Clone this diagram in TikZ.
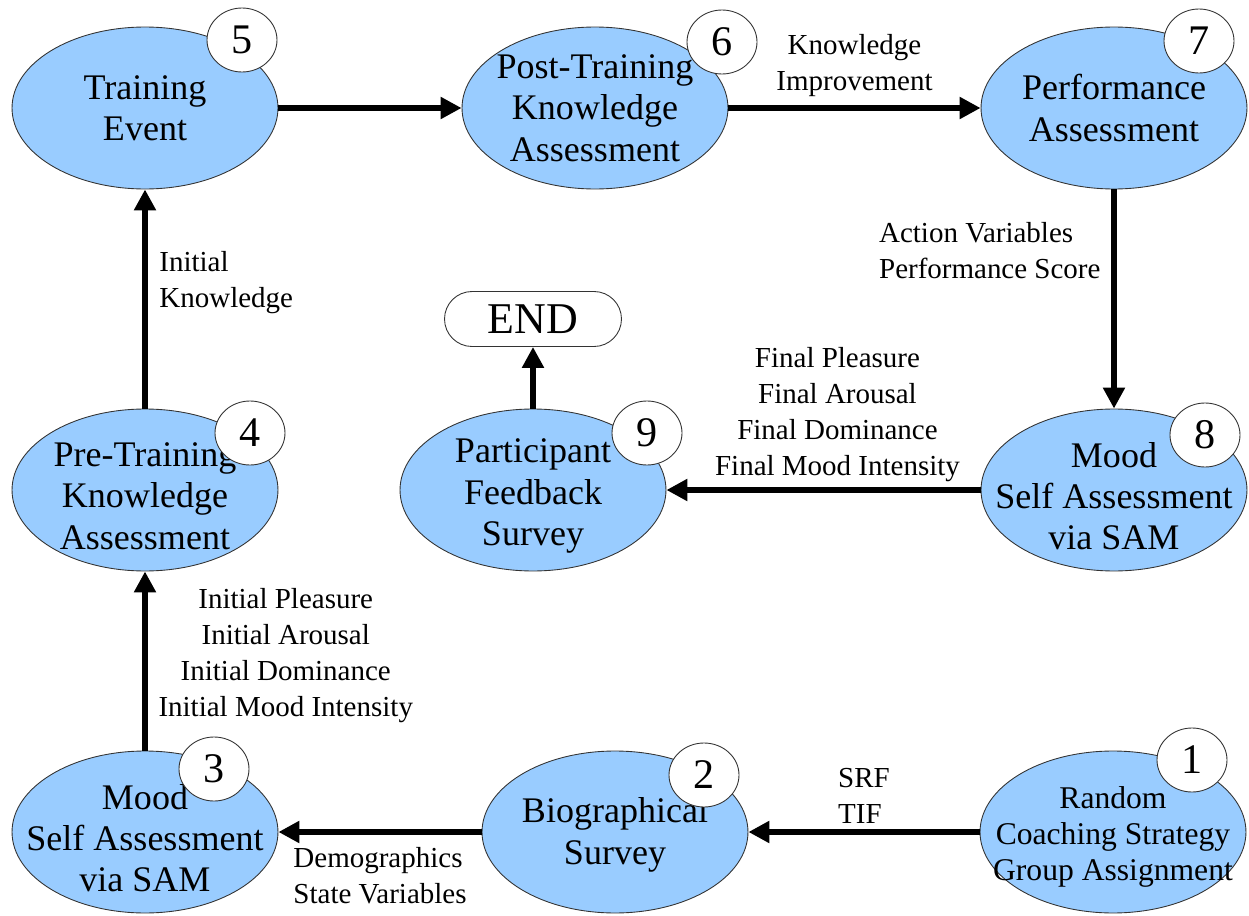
\documentclass[tikz,border=0pt]{standalone}
\usepackage{fontspec}
\setmainfont{Liberation Serif}
\usetikzlibrary{shapes.geometric,arrows.meta}

\definecolor{stageblue}{RGB}{153,204,255}

\tikzset{
  stage/.style={ellipse, draw=black!80, line width=0.5pt, fill=stageblue,
    minimum width=5.32cm, minimum height=3.24cm, inner sep=0pt},
  stagetext/.style={align=center, inner sep=0pt,
    font=\fontsize{20.5}{23.5}\selectfont},
  badge/.style={ellipse, draw=black!80, line width=0.5pt, fill=white,
    minimum width=1.4cm, minimum height=1.28cm, inner sep=0pt,
    font=\fontsize{24}{24}\selectfont},
  endbox/.style={draw=black!80, line width=0.5pt, fill=white, rounded corners=0.55cm,
    minimum width=3.54cm, minimum height=1.1cm, inner sep=0pt,
    font=\fontsize{25}{25}\selectfont},
  flow/.style={line width=3.4pt, -{Triangle[length=0.42cm,width=0.42cm]}},
  lbl/.style={inner sep=0pt, font=\fontsize{16.5}{20.4}\selectfont},
}

\begin{document}
\begin{tikzpicture}[x=0.02cm,y=-0.02cm]
		\useasboundingbox (0,0) rectangle (1249,916);

		% stages
		\node[stage] (n5) at (145,108) {};
		\node[stage] (n6) at (595,108) {};
		\node[stage] (n7) at (1114,108) {};
		\node[stage] (n4) at (145,490) {};
		\node[stage] (n9) at (533,490) {};
		\node[stage] (n8) at (1114,490) {};
		\node[stage] (n3) at (145,832) {};
		\node[stage] (n2) at (615,832) {};
		\node[stage] (n1) at (1113,832) {};

		\node[stagetext] (t5) at (n5) {Training\\Event};
		\node[stagetext] (t6) at (n6) {Post-Training\\Knowledge\\Assessment};
		\node[stagetext] (t7) at (n7) {Performance\\Assessment};
		\node[stagetext, yshift=-0.12cm] (t4) at (n4) {Pre-Training\\Knowledge\\Assessment};
		\node[stagetext, yshift=-0.12cm] (t9) at (n9) {Participant\\Feedback\\Survey};
		\node[stagetext, yshift=-0.12cm] (t8) at (n8) {Mood\\Self Assessment\\via SAM};
		\node[stagetext, yshift=-0.12cm] (t3) at (n3) {Mood\\Self Assessment\\via SAM};
		\node[stagetext, yshift=-0.06cm] (t2) at (n2) {Biographical\\Survey};
		\node[stagetext, yshift=-0.1cm, font=\fontsize{18}{20.5}\selectfont] (t1) at (n1) {Random\\Coaching Strategy\\Group Assignment};

		\node[endbox] (fin) at (533,319) {END};

		% step numbers
		\node[badge] (b5) at (242,40) {5};
		\node[badge] (b6) at (722,42) {6};
		\node[badge] (b7) at (1199,41) {7};
		\node[badge] (b4) at (250,433) {4};
		\node[badge] (b9) at (647,433) {9};
		\node[badge] (b8) at (1205,435) {8};
		\node[badge] (b3) at (214,769) {3};
		\node[badge] (b2) at (704,775) {2};
		\node[badge] (b1) at (1192,760) {1};

		% flow
		\draw[flow] (n1) -- node[lbl, above=3pt, align=left] {SRF\\TIF} (n2);
		\draw[flow] (n2) -- node[lbl, below=7pt, align=left] {Demographics\\State Variables} (n3);
		\draw[flow] (n3) -- node[lbl, right=6pt, pos=0.53, align=center] {Initial Pleasure\\Initial Arousal\\Initial Dominance\\Initial Mood Intensity} (n4);
		\draw[flow] (n4) -- node[lbl, right=6.5pt, pos=0.575, align=left] {Initial\\Knowledge} (n5);
		\draw[flow] (n5) -- (n6);
		\draw[flow] (n6) -- node[lbl, above=5pt, align=center] {Knowledge\\Improvement} (n7);
		\draw[flow] (n7) -- node[lbl, left=6pt, pos=0.28, align=left] {Action Variables\\Performance Score} (n8);
		\draw[flow] (n8) -- node[lbl, above=3pt, xshift=0.28cm, align=center] {Final Pleasure\\Final Arousal\\Final Dominance\\Final Mood Intensity} (n9);
		\draw[flow] (n9) -- (fin);
\end{tikzpicture}
\end{document}
